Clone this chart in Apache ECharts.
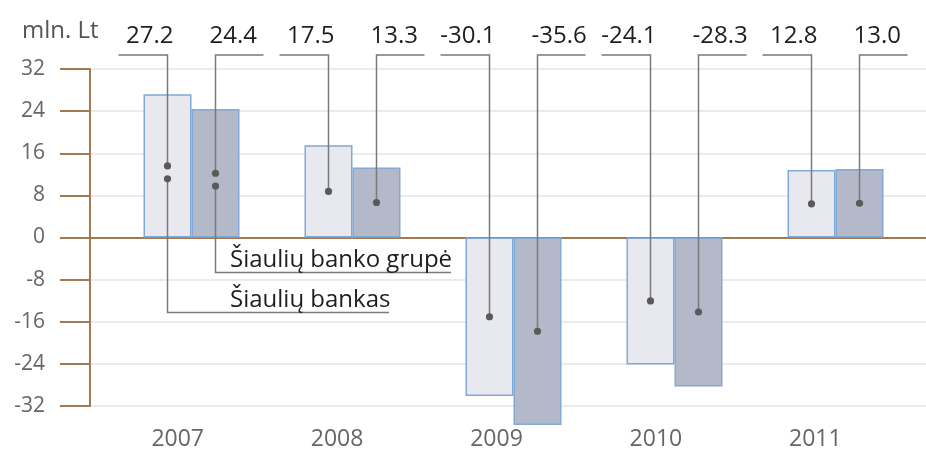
<!DOCTYPE html>
<html><head><meta charset="utf-8">
<script src="https://cdn.jsdelivr.net/npm/echarts@6/dist/echarts.min.js"></script>
<style>html,body{margin:0;padding:0;background:#fff}#c{width:926px;height:451px}</style>
</head><body><div id="c"></div><script>
const categories = ['2007', '2008', '2009', '2010', '2011'];
const bankas = [27.2, 17.5, -30.1, -24.1, 12.8];
const grupe = [24.4, 13.3, -35.6, -28.3, 13.0];
const seriesNames = ['Šiaulių bankas', 'Šiaulių banko grupė'];
const yMin = -32, yMax = 32, yInterval = 8;
const unitLabel = 'mln. Lt';

const FONT = '"Open Sans", "Noto Sans", sans-serif';
const BROWN = '#a27950';
const BAR_W = 48;

const chart = echarts.init(document.getElementById('c'), null, {renderer: 'canvas'});

const leaderData = [];
[bankas, grupe].forEach((arr, s) => arr.forEach((v, i) => leaderData.push([i, v, s])));
const legendData = [[0, bankas[0], 0], [0, grupe[0], 1]];

function barX(api, idx, s) {
  return api.coord([idx, 0])[0] + (s === 0 ? -BAR_W / 2 : BAR_W / 2);
}

const option = {
  animation: false,
  backgroundColor: '#fff',
  grid: [
    {left: 90, right: 0, top: 69, bottom: 45},
    {left: 111, right: 10, top: 69, bottom: 45},
    {left: 98, right: 31, top: 69, bottom: 45}
  ],
  xAxis: [
    {gridIndex: 0, type: 'value', min: 0, max: 1,
     axisLine: {show: true, onZero: true, lineStyle: {color: BROWN, width: 2}},
     axisTick: {show: false}, axisLabel: {show: false}, splitLine: {show: false}},
    {gridIndex: 1, type: 'category', data: categories,
     axisLine: {show: false, onZero: false}, axisTick: {show: false},
     axisLabel: {show: false}},
    {gridIndex: 2, type: 'category', data: categories,
     axisLine: {show: false, onZero: false}, axisTick: {show: false},
     axisLabel: {fontFamily: FONT, fontSize: 23, color: '#666', margin: 23}}
  ],
  yAxis: [
    {gridIndex: 0, type: 'value', min: yMin, max: yMax, interval: yInterval,
     axisLine: {show: true, lineStyle: {color: BROWN, width: 2}},
     axisTick: {show: true, length: 30, lineStyle: {color: BROWN, width: 2}},
     axisLabel: {fontFamily: FONT, fontSize: 21, color: '#666', margin: 45},
     splitLine: {show: true, lineStyle: {color: '#e4e4e4', width: 1.5}}},
    {gridIndex: 1, type: 'value', min: yMin, max: yMax, interval: yInterval,
     axisLine: {show: false}, axisTick: {show: false}, axisLabel: {show: false},
     splitLine: {show: false}},
    {gridIndex: 2, type: 'value', min: yMin, max: yMax, interval: yInterval,
     axisLine: {show: false}, axisTick: {show: false}, axisLabel: {show: false},
     splitLine: {show: false}}
  ],
  graphic: [
    {type: 'text', left: 22, top: 19,
     style: {text: unitLabel, fontFamily: FONT, fontSize: 24, fill: '#555'}}
  ],
  series: [
    {type: 'bar', name: seriesNames[0], data: bankas, xAxisIndex: 1, yAxisIndex: 1,
     barWidth: BAR_W, barGap: '0%', clip: false,
     itemStyle: {color: '#e8e9ee', borderColor: '#80a8d8', borderWidth: 1.5}},
    {type: 'bar', name: seriesNames[1], data: grupe, xAxisIndex: 1, yAxisIndex: 1,
     barWidth: BAR_W, barGap: '0%', clip: false,
     itemStyle: {color: '#b3b9c9', borderColor: '#80a8d8', borderWidth: 1.5}},
    {type: 'custom', xAxisIndex: 1, yAxisIndex: 1, clip: false, z: 10,
     data: leaderData,
     renderItem: function (params, api) {
       const idx = api.value(0), v = api.value(1), s = api.value(2);
       const x = barX(api, idx, s);
       const yMid = api.coord([idx, v / 2])[1];
       const yTop = api.coord([idx, yMax])[1] - 14;
       const x2 = s === 0 ? x - 49 : x + 48;
       return {type: 'group', children: [
         {type: 'polyline', shape: {points: [[x, yMid], [x, yTop], [x2, yTop]]},
          style: {stroke: '#7a7a7a', lineWidth: 1.5, fill: null}},
         {type: 'circle', shape: {cx: x, cy: yMid, r: 3.6}, style: {fill: '#5a5a5a'}},
         {type: 'text', style: {text: v.toFixed(1), x: s === 0 ? x + 6 : x - 6, y: yTop - 19,
          align: s === 0 ? 'right' : 'left', verticalAlign: 'middle',
          fontFamily: FONT, fontSize: 24, fill: '#1e1e1e'}}
       ]};
     }},
    {type: 'custom', xAxisIndex: 1, yAxisIndex: 1, clip: false, z: 10,
     data: legendData,
     renderItem: function (params, api) {
       const idx = api.value(0), v = api.value(1), s = api.value(2);
       const x = barX(api, idx, s);
       const yDot = api.coord([idx, v * (s === 0 ? 0.41 : 0.40)])[1];
       const y0 = api.coord([idx, 0])[1];
       const yLine = y0 + (s === 0 ? 75 : 35);
       const xEnd = s === 0 ? 389 : 451;
       return {type: 'group', children: [
         {type: 'polyline', shape: {points: [[x, yDot], [x, yLine], [xEnd, yLine]]},
          style: {stroke: '#7a7a7a', lineWidth: 1.5, fill: null}},
         {type: 'circle', shape: {cx: x, cy: yDot, r: 3.6}, style: {fill: '#5a5a5a'}},
         {type: 'text', style: {text: seriesNames[s], x: 230, y: yLine - 12,
          align: 'left', verticalAlign: 'middle', fontFamily: FONT, fontSize: 24, fill: '#1e1e1e'}}
       ]};
     }}
  ]
};
chart.setOption(option);
</script></body></html>
